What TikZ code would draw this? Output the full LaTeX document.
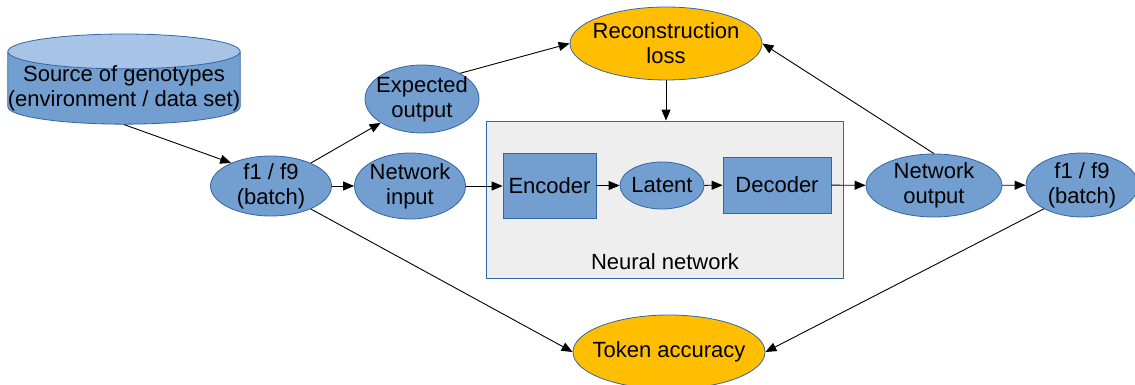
\documentclass[tikz,border=0pt]{standalone}
\usepackage{fontspec}
\setmainfont{Liberation Sans}
\usetikzlibrary{shapes.geometric,arrows.meta}
\definecolor{nodeblue}{HTML}{729FCF}
\definecolor{lineblue}{HTML}{3465A4}
\definecolor{topblue}{HTML}{A7C4E6}
\definecolor{goalorange}{HTML}{FFBF00}
\definecolor{boxgray}{HTML}{EEEEEE}

\begin{document}
\begin{tikzpicture}[x=1pt, y=-1pt, font=\fontsize{22}{25}\selectfont,
  blob/.style={ellipse, draw=lineblue, fill=nodeblue, align=center,
    inner xsep=-15pt, inner ysep=-2pt, line width=0.8pt},
  goal/.style={blob, fill=goalorange},
  block/.style={rectangle, draw=lineblue, fill=nodeblue, inner sep=0pt,
    line width=0.8pt},
  flow/.style={-{Triangle[length=11pt,width=9pt]}, line width=0.9pt}]
  \useasboundingbox (0,0) rectangle (1135,385);

  \node[rectangle, draw=lineblue, fill=boxgray, line width=0.8pt,
    minimum width=357pt, minimum height=157pt] (nn) at (664.5,199.5) {};
  \node (nnlabel) at (665,262) {Neural network};

  \node[cylinder, shape border rotate=90, aspect=0.15, draw=lineblue,
    cylinder uses custom fill, cylinder end fill=topblue,
    cylinder body fill=nodeblue, line width=0.8pt, inner xsep=0pt,
    inner ysep=-4pt, minimum width=232pt, minimum height=86pt, align=center]
    (src) at (124,88) {Source of genotypes\\(environment / data set)};

  \node[blob, minimum width=121pt, minimum height=60pt] (f1a) at (271,186) {f1 / f9\\(batch)};
  \node[blob, minimum width=114pt, minimum height=68pt] (exp) at (422,99) {Expected\\output};
  \node[blob, minimum width=111pt, minimum height=66pt] (netin) at (410,186) {Network\\input};
  \node[block, minimum width=93pt, minimum height=65pt] (enc) at (549.5,185.5) {Encoder};
  \node[blob, minimum width=84pt, minimum height=47pt] (lat) at (662,185.5) {Latent};
  \node[block, minimum width=108pt, minimum height=56pt] (dec) at (777,185) {Decoder};
  \node[blob, minimum width=136pt, minimum height=63pt] (netout) at (934,185.5) {Network\\output};
  \node[blob, minimum width=112pt, minimum height=64pt] (f1b) at (1082,185) {f1 / f9\\(batch)};
  \node[goal, minimum width=192pt, minimum height=73pt] (recon) at (666,43.5) {Reconstruction\\loss};
  \node[goal, minimum width=192pt, minimum height=74pt] (tok) at (669,352) {Token accuracy};

  \draw[flow] (src.south) -- (f1a.150);
  \draw[flow] (f1a.30) -- (exp.210);
  \draw[flow] (f1a) -- (netin);
  \draw[flow] (exp.34) -- (recon.west);
  \draw[flow] (recon) -- (recon |- nn.north);
  \draw[flow] (netin) -- (netin -| enc.west);
  \draw[flow] (enc) -- (lat);
  \draw[flow] (lat) -- (dec);
  \draw[flow] (dec) -- (netout);
  \draw[flow] (netout.north) -- (recon.east);
  \draw[flow] (netout) -- (f1b);
  \draw[flow] (f1a.-30) -- (tok.west);
  \draw[flow] (f1b.212) -- (tok.east);
\end{tikzpicture}
\end{document}
